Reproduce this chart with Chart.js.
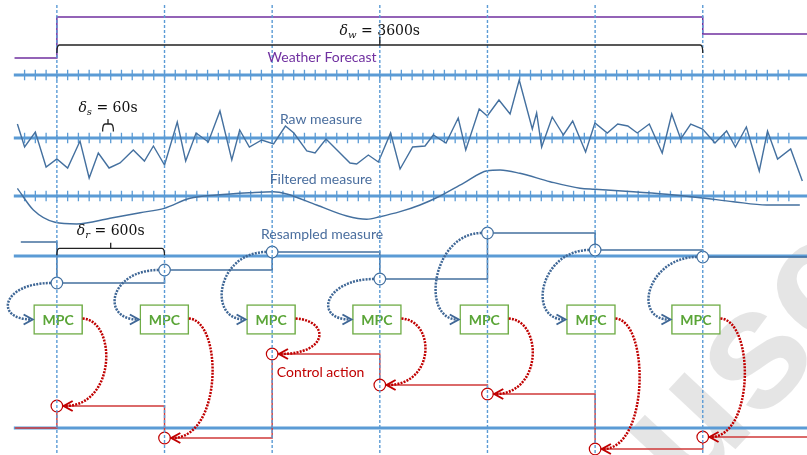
<!DOCTYPE html>
<html>
<head>
<meta charset="utf-8">
<title>Measure resampling and MPC timeline</title>
<script src="https://cdn.jsdelivr.net/npm/chart.js@4.4.1/dist/chart.umd.min.js"></script>
<style>
  html, body { margin: 0; padding: 0; background: #fff; overflow: hidden; }
  canvas { display: block; }
</style>
</head>
<body>
<canvas id="timeline" width="807" height="455"></canvas>
<script>
// time in seconds, t = 0 at the first MPC call
const sampleTimes = [0, 600, 1200, 1800, 2400, 3000, 3600];
const mpcTimes = [7, 599, 1194, 1784, 2382, 2977, 3562];

// weather forecast (step), height above its axis
const weatherTimes = [-236, 0, 3600, 4181];
const weatherValues = [17, 58, 41, 41];

// raw measure, one reading roughly every 60 s
const rawTimes = [-220, -180, -120, -60, 0, 60, 129, 180, 231, 291, 352, 426, 488, 538, 600,
  671, 718, 776, 844, 909, 975, 1019, 1073, 1142, 1208, 1274, 1321, 1393, 1439, 1500,
  1634, 1671, 1736, 1792, 1860, 1913, 1983, 2052, 2098, 2169, 2237, 2279, 2354, 2399, 2464,
  2526, 2577, 2650, 2674, 2702, 2761, 2823, 2875, 2947, 2999, 3068, 3126, 3182, 3235, 3302,
  3374, 3427, 3477, 3533, 3599, 3668, 3733, 3782, 3843, 3915, 3961, 4017, 4090, 4155];
const rawValues = [14, -9, 6, -29, -21, -30, -3, -40, -15, -30, -25, -12, -23, -8, -27,
  16, -23, 5, -4, 27, -22, 8, -9, -2, -6, 12, 5, -13, -15, -1,
  -25, -26, -17, -24, 5, -31, -9, -8, 3, -5, 20, -12, 29, 22, 38,
  24, 58, 9, 25, -9, 21, 3, 17, -14, 15, 5, 14, 12, 5, 14,
  -15, 24, -1, 14, 9, -5, 7, -9, 11, -33, 7, -21, -11, -43];

// filtered measure
const filtTimes = [-220, -131, -10, 111, 296, 464, 599, 742, 891, 1077, 1207, 1281, 1448, 1616, 1727, 1801,
  1913, 2024, 2136, 2265, 2399, 2470, 2581, 2749, 2916, 2999, 3213, 3399, 3585, 3770, 3956, 4141];
const filtValues = [7.7, -14, -26.3, -28, -22.3, -16.7, -12.3, -2.3, 1, 3.3, 4.3, 2, -9, -20, -23.3, -20.7,
  -15.7, -9, 0, 12.7, 25.3, 26, 22.7, 14.3, 7.7, 6.7, 4.3, 1.7, -1.7, -5.7, -9, -9];

// resampled measure (held for 600 s)
const resTimes = [-201, 0, 600, 1200, 1800, 2400, 3000, 3600, 4181];
const resValues = [14, -27, -14, 4, -23, 23, 6, -1, -1];

// control action applied
const ctrlTimes = [-233, 0, 600, 1200, 1800, 2400, 3000, 3600, 4181];
const ctrlValues = [0, 22, -10, 74, 43, 34, -21, -9, -9];

// axis ticks every delta_s
const DELTA_S = 60;
const tickTimes = [];
for (let t = -180; t <= 4080; t += DELTA_S) tickTimes.push(t);

// layout
const X_MIN = -317, X_MAX = 4181, AXIS_START = -240;
const BASE = { weather: 75, raw: 138, filt: 196, res: 256, ctrl: 428 };
const MPC_Y = [304.5, 334.5];
const AXIS_BLUE = '#5B9BD5', LINE_BLUE = '#44709F', ARROW_BLUE = '#3F6796';
const RED = '#C00000', GREEN = '#70AD47', PURPLE = '#7030A0';

const onBand = (times, values, base) => times.map((t, i) => ({ x: t, y: base - values[i] }));
const segments = list => list.flatMap(([x0, y0, x1, y1]) => [{ x: x0, y: y0 }, { x: x1, y: y1 }, { x: x1, y: null }]);
const innerOnly = n => c => (c.dataIndex === 0 || c.dataIndex === n - 1) ? 0 : 5.8;

const axisBands = [BASE.weather, BASE.raw, BASE.filt, BASE.res, BASE.ctrl];
const tickBands = [BASE.weather, BASE.raw, BASE.filt];

const datasets = [
  { // sampling instants
    data: segments(sampleTimes.map(t => [t, 5, t, 455])),
    borderColor: AXIS_BLUE, borderWidth: 1.4, borderDash: [3, 2], pointRadius: 0
  },
  {
    data: onBand(resTimes, resValues, BASE.res),
    stepped: true, borderColor: LINE_BLUE, borderWidth: 1.5,
    pointRadius: innerOnly(resTimes.length), pointBorderColor: LINE_BLUE,
    pointBackgroundColor: '#fff', pointBorderWidth: 1.2
  },
  {
    data: onBand(ctrlTimes, ctrlValues, BASE.ctrl),
    stepped: true, borderColor: '#D03A3A', borderWidth: 1.4,
    pointRadius: innerOnly(ctrlTimes.length), pointBorderColor: RED,
    pointBackgroundColor: '#fff', pointBorderWidth: 1.2
  },
  {
    data: onBand(weatherTimes, weatherValues, BASE.weather),
    stepped: true, borderColor: PURPLE, borderWidth: 1.5, pointRadius: 0
  },
  {
    data: onBand(rawTimes, rawValues, BASE.raw),
    borderColor: LINE_BLUE, borderWidth: 1.4, pointRadius: 0
  },
  {
    data: onBand(filtTimes, filtValues, BASE.filt),
    cubicInterpolationMode: 'monotone', borderColor: LINE_BLUE, borderWidth: 1.4, pointRadius: 0
  },
  {
    type: 'bar',
    data: mpcTimes.map(t => ({ x: t, y: MPC_Y })),
    barThickness: 49, backgroundColor: '#fff', borderColor: GREEN,
    borderWidth: 1.5, borderSkipped: false
  },
  {
    data: segments(tickBands.flatMap(b => tickTimes.map(t => [t, b - 5.3, t, b + 5.3]))),
    borderColor: AXIS_BLUE, borderWidth: 1.3, pointRadius: 0
  },
  {
    data: segments(axisBands.map(b => [AXIS_START, b, X_MAX, b])),
    borderColor: AXIS_BLUE, borderWidth: 3, pointRadius: 0
  }
];

function chevron(ctx, tx, ty, dir, color) {
  ctx.setLineDash([]);
  ctx.lineWidth = 2;
  ctx.strokeStyle = color;
  ctx.beginPath();
  ctx.moveTo(tx - dir * 9, ty - 5);
  ctx.lineTo(tx, ty);
  ctx.lineTo(tx - dir * 9, ty + 5);
  ctx.stroke();
}

function brace(ctx, x0, x1, yl, leg, tip) {
  const xm = (x0 + x1) / 2;
  ctx.setLineDash([]);
  ctx.lineWidth = 1.3;
  ctx.strokeStyle = '#222';
  ctx.beginPath();
  ctx.moveTo(x0, yl + leg);
  ctx.quadraticCurveTo(x0, yl, x0 + 2.5, yl);
  ctx.lineTo(x1 - 2.5, yl);
  ctx.quadraticCurveTo(x1, yl, x1, yl + leg);
  ctx.moveTo(xm, yl);
  ctx.lineTo(xm, yl - tip);
  ctx.stroke();
}

function mathLabel(ctx, cx, by, sub, rest) {
  const it = 'italic 14px "DejaVu Serif"', small = 'italic 10px "DejaVu Serif"', up = '14px "DejaVu Serif"';
  ctx.font = it; const w1 = ctx.measureText('δ').width;
  ctx.font = small; const w2 = ctx.measureText(sub).width;
  ctx.font = up; const w3 = ctx.measureText(rest).width;
  let x0 = cx - (w1 + w2 + w3) / 2;
  ctx.fillStyle = '#111';
  ctx.textAlign = 'left';
  ctx.textBaseline = 'alphabetic';
  ctx.font = it; ctx.fillText('δ', x0, by); x0 += w1;
  ctx.font = small; ctx.fillText(sub, x0, by + 3); x0 += w2;
  ctx.font = up; ctx.fillText(rest, x0, by);
}

const annotations = {
  id: 'annotations',
  beforeDatasetsDraw(chart) {
    const { ctx } = chart;
    ctx.save();
    ctx.font = 'bold 170px "Liberation Sans"';
    const wMan = ctx.measureText('Man').width, wu = ctx.measureText('u').width;
    ctx.translate(690, 432);
    ctx.rotate(-47 * Math.PI / 180);
    ctx.fillStyle = 'rgba(0,0,0,0.1)';
    ctx.fillText('Manuscript', -(wMan + wu / 2), 45);
    ctx.restore();
  },
  afterDatasetDraw(chart, args) {
    if (args.meta.type !== 'bar') return;
    const { ctx } = chart;
    ctx.save();
    ctx.fillStyle = '#5AA537';
    ctx.font = 'bold 14px Lato';
    ctx.textAlign = 'center';
    ctx.textBaseline = 'middle';
    args.meta.data.forEach(bar => ctx.fillText('MPC', bar.x, (bar.y + bar.base) / 2 + 1));
    ctx.restore();
  },
  afterDatasetsDraw(chart) {
    const { ctx, scales: { x, y } } = chart;
    const px = t => x.getPixelForValue(t);
    const py = v => y.getPixelForValue(v);
    const resPts = chart.getDatasetMeta(1).data;
    const ctrlPts = chart.getDatasetMeta(2).data;
    const boxes = chart.getDatasetMeta(6).data;
    ctx.save();

    sampleTimes.forEach((t, i) => {
      const c = resPts[i + 1], r = ctrlPts[i + 1], b = boxes[i];
      const by = (b.y + b.base) / 2;
      const bl = b.x - b.width / 2, br = b.x + b.width / 2;
      ctx.lineWidth = 2.5;
      ctx.setLineDash([2, 1.2]);
      // measure -> MPC
      ctx.strokeStyle = ARROW_BLUE;
      ctx.beginPath();
      ctx.moveTo(c.x - 5.8, c.y);
      ctx.bezierCurveTo(c.x - 55, c.y, bl - 40, by, bl - 2, by);
      ctx.stroke();
      chevron(ctx, bl - 1, by, 1, ARROW_BLUE);
      // MPC -> control action
      ctx.lineWidth = 2.5;
      ctx.setLineDash([2, 1.2]);
      ctx.strokeStyle = RED;
      ctx.beginPath();
      ctx.moveTo(br, by - 1);
      ctx.bezierCurveTo(br + 34, by + 1, br + 34, r.y, r.x + 8, r.y);
      ctx.stroke();
      chevron(ctx, r.x + 6.8, r.y, -1, RED);
    });

    // period braces
    brace(ctx, px(0), px(3600), py(45), 8, 8);
    brace(ctx, px(255), px(315), py(124), 7.5, 5);
    brace(ctx, px(0), px(600), py(248.3), 7, 5.6);
    mathLabel(ctx, px(1800), py(34.5), 'w', ' = 3600s');
    mathLabel(ctx, px(285), py(111.5), 's', ' = 60s');
    mathLabel(ctx, px(300), py(235), 'r', ' = 600s');

    // series names
    ctx.font = '14px Lato';
    ctx.textAlign = 'center';
    ctx.textBaseline = 'middle';
    const names = [
      ['Weather Forecast', 1478, 57, PURPLE],
      ['Raw measure', 1472, 119, '#4A6E9E'],
      ['Filtered measure', 1472, 179.5, '#4A6E9E'],
      ['Resampled measure', 1478, 234.5, '#4A6E9E'],
      ['Control action', 1470, 372.5, RED]
    ];
    names.forEach(([txt, t, v, col]) => {
      ctx.fillStyle = col;
      ctx.fillText(txt, px(t), py(v));
    });
    ctx.restore();
  }
};

new Chart(document.getElementById('timeline'), {
  type: 'line',
  data: { datasets },
  options: {
    responsive: false,
    animation: false,
    events: [],
    layout: { padding: 0 },
    plugins: { legend: { display: false }, tooltip: { enabled: false } },
    elements: { line: { borderCapStyle: 'butt' } },
    scales: {
      x: { type: 'linear', min: X_MIN, max: X_MAX, display: false, offset: false, grid: { offset: false } },
      y: { type: 'linear', min: 0, max: 455, reverse: true, display: false }
    }
  },
  plugins: [annotations]
});
</script>
</body>
</html>
